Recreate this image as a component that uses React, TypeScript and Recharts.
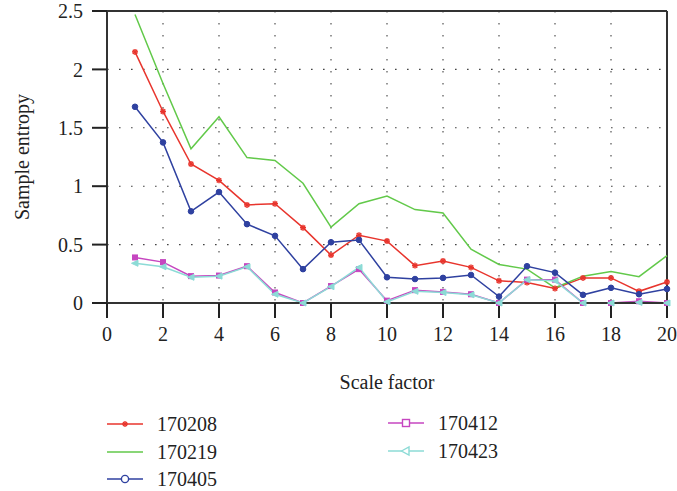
import React from 'react';
import { LineChart, Line, XAxis, YAxis, CartesianGrid, ReferenceLine } from 'recharts';

const scale = [1, 2, 3, 4, 5, 6, 7, 8, 9, 10, 11, 12, 13, 14, 15, 16, 17, 18, 19, 20];
const s170208 = [2.15, 1.64, 1.19, 1.05, 0.84, 0.85, 0.645, 0.41, 0.58, 0.53, 0.32, 0.36, 0.305, 0.19, 0.175, 0.125, 0.215, 0.215, 0.1, 0.18];
const s170219 = [2.47, 1.88, 1.32, 1.595, 1.245, 1.22, 1.025, 0.65, 0.85, 0.915, 0.8, 0.77, 0.46, 0.33, 0.29, 0.13, 0.23, 0.27, 0.225, 0.405];
const s170405 = [1.68, 1.375, 0.785, 0.95, 0.675, 0.575, 0.29, 0.52, 0.54, 0.22, 0.205, 0.215, 0.24, 0.055, 0.315, 0.26, 0.07, 0.13, 0.075, 0.12];
const s170412 = [0.39, 0.35, 0.23, 0.235, 0.315, 0.09, 0.0, 0.145, 0.29, 0.02, 0.11, 0.095, 0.075, 0.0, 0.2, 0.2, 0.0, 0.0, 0.015, 0.0];
const s170423 = [0.34, 0.31, 0.22, 0.23, 0.31, 0.075, 0.0, 0.14, 0.305, 0.01, 0.1, 0.09, 0.07, 0.0, 0.2, 0.19, 0.0, 0.0, 0.005, 0.0];
const xTicks = [0, 2, 4, 6, 8, 10, 12, 14, 16, 18, 20];
const yTicks = [0, 0.5, 1, 1.5, 2, 2.5];

const data = scale.map((x, i) => ({
  x,
  a: s170208[i],
  b: s170219[i],
  c: s170405[i],
  d: s170412[i],
  e: s170423[i],
}));

const RED = '#e8352d';
const GREEN = '#62c94a';
const BLUE = '#2f41a0';
const MAGENTA = '#c646c0';
const CYAN = '#8cdbd6';
const FONT = '"Liberation Serif", "DejaVu Serif", serif';

// plot markers are tiny, so they read as filled blobs like in the source
const star = (color: string) => (p: any) => (
  <g key={`a${p.index}`} stroke={color} strokeWidth={1.5}>
    <line x1={p.cx - 3} y1={p.cy} x2={p.cx + 3} y2={p.cy} />
    <line x1={p.cx} y1={p.cy - 3} x2={p.cx} y2={p.cy + 3} />
    <line x1={p.cx - 2.2} y1={p.cy - 2.2} x2={p.cx + 2.2} y2={p.cy + 2.2} />
    <line x1={p.cx - 2.2} y1={p.cy + 2.2} x2={p.cx + 2.2} y2={p.cy - 2.2} />
  </g>
);
const circ = (color: string) => (p: any) => (
  <circle key={`c${p.index}`} cx={p.cx} cy={p.cy} r={2.8} fill={color} stroke={color} />
);
const sq = (color: string) => (p: any) => (
  <rect key={`d${p.index}`} x={p.cx - 2.5} y={p.cy - 2.5} width={5} height={5} fill={color} stroke={color} />
);
const tri = (color: string) => (p: any) => (
  <polygon key={`e${p.index}`} points={`${p.cx - 3.5},${p.cy} ${p.cx + 3},${p.cy - 3} ${p.cx + 3},${p.cy + 3}`} fill={color} stroke={color} />
);

function LegendIcon({ color, kind }: { color: string; kind: string }) {
  return (
    <svg width={38} height={12} style={{ position: 'absolute', left: 0, top: -6 }}>
      <line x1={0} y1={6} x2={36} y2={6} stroke={color} strokeWidth={1.5} />
      {kind === 'star' && (
        <g stroke={color} strokeWidth={1.4}>
          <line x1={15} y1={6} x2={21} y2={6} />
          <line x1={18} y1={3} x2={18} y2={9} />
          <line x1={16} y1={4} x2={20} y2={8} />
          <line x1={16} y1={8} x2={20} y2={4} />
        </g>
      )}
      {kind === 'circle' && <circle cx={18} cy={6} r={3.6} fill="#fff" stroke={color} strokeWidth={1.4} />}
      {kind === 'square' && <rect x={14.5} y={2.5} width={7} height={7} fill="#fff" stroke={color} strokeWidth={1.4} />}
      {kind === 'tri' && <polygon points="13.5,6 21,2 21,10" fill="#fff" stroke={color} strokeWidth={1.4} />}
    </svg>
  );
}

const legendItems = [
  { name: '170208', color: RED, kind: 'star', left: 107, top: 424 },
  { name: '170219', color: GREEN, kind: 'none', left: 107, top: 452 },
  { name: '170405', color: BLUE, kind: 'circle', left: 107, top: 479 },
  { name: '170412', color: MAGENTA, kind: 'square', left: 388, top: 423 },
  { name: '170423', color: CYAN, kind: 'tri', left: 388, top: 451 },
];

export default function App() {
  const tickStyle = { fontSize: 20, fill: '#222', fontFamily: FONT };
  return (
    <div style={{ position: 'absolute', left: 0, top: 0, width: 677, height: 491, background: '#fff', fontFamily: FONT, color: '#222' }}>
      <LineChart width={677} height={491} data={data} margin={{ top: 11, right: 10, left: 0, bottom: 158 }}>
        <CartesianGrid stroke="#444" strokeDasharray="1.6 10.4" strokeWidth={1.1} verticalValues={[2, 4, 6, 8, 10, 12, 14, 16, 18]} horizontalValues={[0.5, 1, 1.5, 2]} />
        <XAxis
          dataKey="x"
          type="number"
          domain={[0, 20]}
          ticks={xTicks}
          interval={0}
          height={30}
          tickSize={15}
          tickMargin={9}
          tick={tickStyle}
          stroke="#333"
          strokeWidth={2}
          tickLine={{ stroke: '#222', strokeWidth: 2 }}
        />
        <YAxis
          type="number"
          domain={[0, 2.5]}
          ticks={yTicks}
          interval={0}
          width={107}
          tickSize={15}
          tickMargin={9}
          tick={tickStyle}
          stroke="#333"
          strokeWidth={2}
          tickLine={{ stroke: '#222', strokeWidth: 2 }}
        />
        <ReferenceLine y={2.5} stroke="#333" strokeWidth={2} />
        <ReferenceLine x={20} stroke="#333" strokeWidth={2} />
        <Line dataKey="a" stroke={RED} strokeWidth={1.5} dot={star(RED)} isAnimationActive={false} />
        <Line dataKey="b" stroke={GREEN} strokeWidth={1.5} dot={false} isAnimationActive={false} />
        <Line dataKey="c" stroke={BLUE} strokeWidth={1.5} dot={circ(BLUE)} isAnimationActive={false} />
        <Line dataKey="d" stroke={MAGENTA} strokeWidth={1.5} dot={sq(MAGENTA)} isAnimationActive={false} />
        <Line dataKey="e" stroke={CYAN} strokeWidth={1.5} dot={tri(CYAN)} isAnimationActive={false} />
      </LineChart>
      <div style={{ position: 'absolute', left: 22, top: 157, transform: 'translate(-50%, -50%) rotate(-90deg)', fontSize: 20, whiteSpace: 'nowrap' }}>
        Sample entropy
      </div>
      <div style={{ position: 'absolute', left: 387, top: 382, transform: 'translate(-50%, -50%)', fontSize: 20, whiteSpace: 'nowrap' }}>
        Scale factor
      </div>
      {legendItems.map((it) => (
        <div key={it.name} style={{ position: 'absolute', left: it.left, top: it.top }}>
          <LegendIcon color={it.color} kind={it.kind} />
          <span style={{ position: 'absolute', left: 50, top: 0, transform: 'translateY(-50%)', fontSize: 20, lineHeight: 1 }}>{it.name}</span>
        </div>
      ))}
    </div>
  );
}
